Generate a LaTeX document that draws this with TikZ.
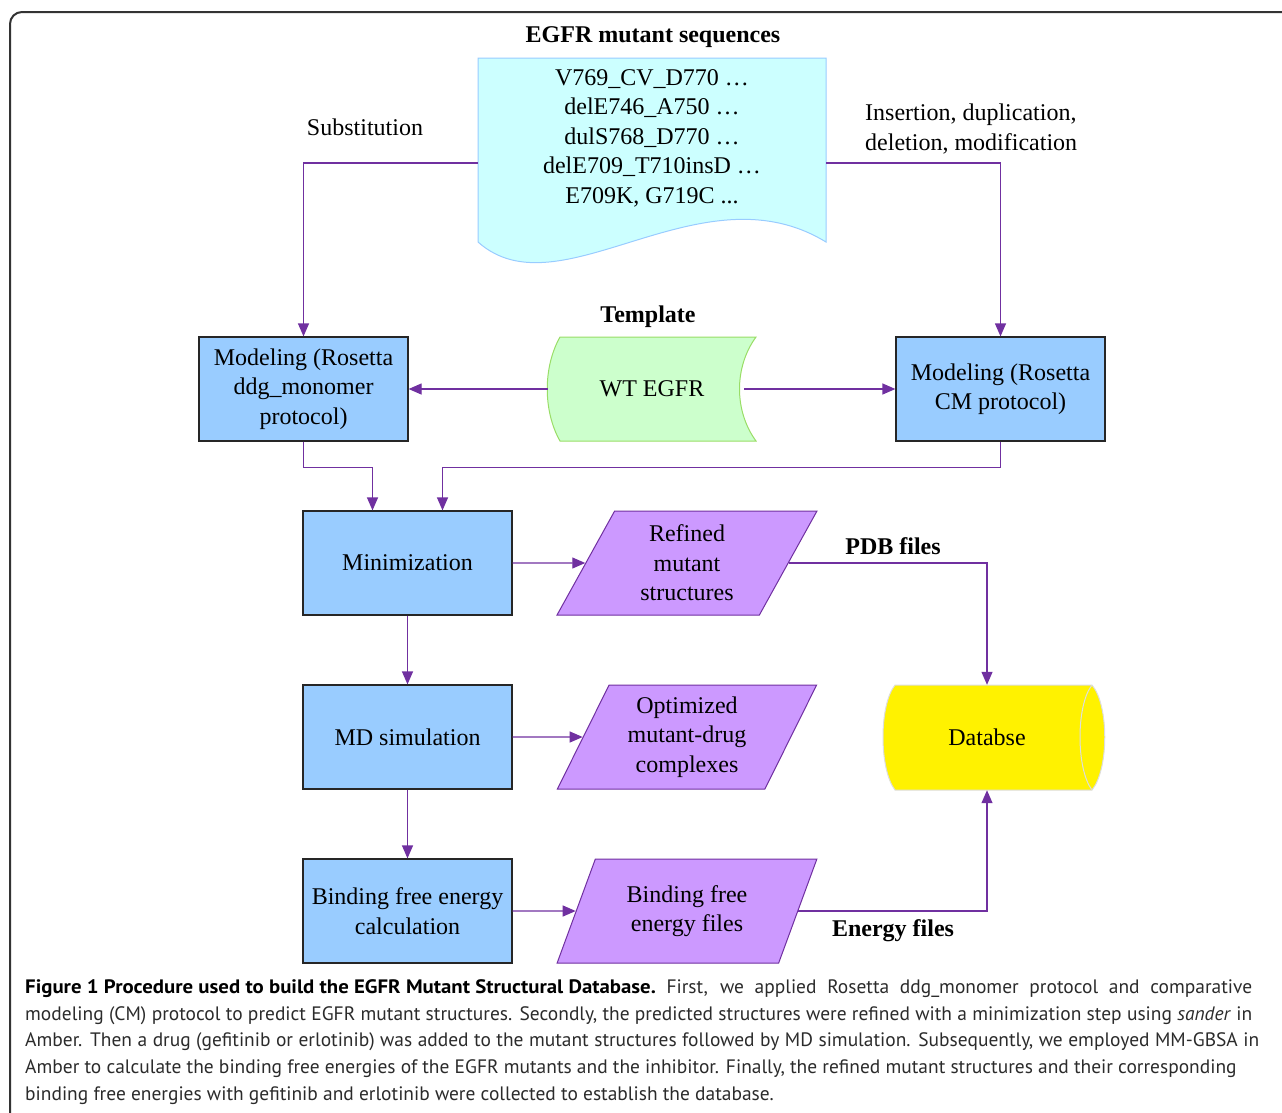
\documentclass[tikz,border=0pt]{standalone}
\usepackage{fontspec}
\setmainfont{Liberation Serif}
\newfontfamily\capfont{PT Sans}
\usetikzlibrary{arrows.meta}
\usetikzlibrary{shapes.geometric}

\definecolor{boxblue}{HTML}{99CCFF}
\definecolor{seqfill}{HTML}{CCFFFF}
\definecolor{wtfill}{HTML}{CCFFCC}
\definecolor{wtline}{HTML}{99DD66}
\definecolor{filefill}{HTML}{CC99FF}
\definecolor{flowpurple}{HTML}{7030A0}
\definecolor{dbline}{HTML}{DDDDDD}
\definecolor{capgray}{HTML}{2B2B2B}

\begin{document}
\begin{tikzpicture}[x=1pt,y=-1pt,
    font=\fontsize{24}{29.5}\selectfont,
    procbox/.style={draw=black!85, fill=boxblue, line width=1.2pt,
        minimum width=209pt, minimum height=104pt, align=center, inner sep=1pt},
    filebox/.style={trapezium, trapezium left angle=64, trapezium right angle=116,
        trapezium stretches=true, draw=flowpurple, fill=filefill, line width=1pt,
        minimum width=260pt, minimum height=104pt, align=center, inner sep=0pt},
    flow/.style={draw=flowpurple, line width=1.2pt, -{Triangle[length=13pt,width=11pt]}},
    lbl/.style={font=\fontsize{24}{29.5}\selectfont\bfseries},
    capline/.style={anchor=base west, inner sep=0pt, text=capgray,
        font=\capfont\fontsize{19.45}{26}\selectfont}]
    \useasboundingbox (0,0) rectangle (1282,1112);

    % Frame
    \draw[black!80, line width=2pt, rounded corners=12pt] (10,1130) -- (10,12) -- (1300,12);

    % Sequences (document shape)
    \draw[boxblue, fill=seqfill, line width=1pt] (478,58) -- (826,58) -- (826,242)
        .. controls (700,165) and (560,315) .. (478,242) -- cycle;
    \node[lbl] (seqtitle) at (653,37) {EGFR mutant sequences};
    \node[minimum width=348pt, align=center, inner sep=0pt] (seq) at (652,138)
        {V769\_CV\_D770 …\\delE746\_A750 …\\dulS768\_D770 …\\delE709\_T710insD …\\E709K, G719C ...};
    \node (subst) at (365,127) {Substitution};
    \node[anchor=west, align=left, inner sep=0pt] (insdel) at (865,129)
        {Insertion, duplication,\\deletion, modification};

    % Template
    \draw[wtline, fill=wtfill, line width=1pt] (560,337) -- (756,337)
        .. controls (734,367) and (734,411) .. (756,441) -- (560,441)
        .. controls (543,411) and (543,367) .. (560,337) -- cycle;
    \node[lbl] (tmpl) at (648,317) {Template};
    \node[minimum width=208pt, inner sep=0pt] (wt) at (652,389) {WT EGFR};

    % Modeling
    \node[procbox] (mod1) at (303.5,389) {Modeling (Rosetta\\ddg\_monomer\\protocol)};
    \node[procbox] (mod2) at (1000.5,389) {Modeling (Rosetta\\CM protocol)};

    % Refinement and MD
    \node[procbox] (mini) at (407.5,563) {Minimization};
    \node[procbox] (md) at (407.5,737) {MD simulation};
    \node[procbox] (bind) at (407.5,911) {Binding free energy\\calculation};

    % Output files
    \node[filebox] (refined) at (687,563) {Refined\\mutant\\structures};
    \node[filebox] (optim) at (687,737) {Optimized\\mutant-drug\\complexes};
    \node[filebox] (bfiles) at (687,911) {Binding free\\energy files};

    % Database (cylinder)
    \draw[dbline, fill=yellow, line width=1pt] (895,685) -- (1092,685)
        .. controls (1109,705) and (1109,769) .. (1092,790) -- (895,790)
        .. controls (879,769) and (879,705) .. (895,685) -- cycle;
    \draw[dbline, line width=1pt] (1092,685) .. controls (1076,705) and (1076,769) .. (1092,790);
    \node[minimum height=105pt, inner sep=0pt] (db) at (987,737.5) {Databse};
    \node[lbl] (pdb) at (893,546) {PDB files};
    \node[lbl] (energy) at (893,931) {Energy files};

    % Connectors
    \draw[flow] ([yshift=-25pt]seq.west) -| (mod1.north);
    \draw[flow] ([yshift=-25pt]seq.east) -| (mod2.north);
    \draw[flow] (wt.west) -- (mod1.east);
    \draw[flow] ([xshift=-12pt]wt.east) -- (mod2.west);
    \draw[flow] (mod1.south) -- ++(0,26) -| ([xshift=-35pt]mini.north);
    \draw[flow] (mod2.south) -- ++(0,26) -| ([xshift=35pt]mini.north);
    \draw[flow] (mini.east) -- (refined.west);
    \draw[flow] (md.east) -- (optim.west);
    \draw[flow] (bind.east) -- (bfiles.west);
    \draw[flow] (mini) -- (md);
    \draw[flow] (md) -- (bind);
    \draw[flow] (refined.east) -| (db.north);
    \draw[flow] (bfiles.east) -| (db.south);

    % Caption
    \node[capline] (cap1) at (25,993) {\makebox[1227pt][s]{\scalebox{1.07}[1]{\textbf{\color{black}Figure 1 Procedure used to build the EGFR Mutant Structural Database.}} First, we applied Rosetta ddg\_monomer protocol and comparative}};
    \node[capline] (cap2) at (25,1020) {\makebox[1227pt][s]{modeling (CM) protocol to predict EGFR mutant structures. Secondly, the predicted structures were refined with a minimization step using \textit{sander} in}};
    \node[capline] (cap3) at (25,1046.5) {\makebox[1234pt][s]{Amber. Then a drug (gefitinib or erlotinib) was added to the mutant structures followed by MD simulation. Subsequently, we employed MM-GBSA in}};
    \node[capline] (cap4) at (25,1073.5) {Amber to calculate the binding free energies of the EGFR mutants and the inhibitor. Finally, the refined mutant structures and their corresponding};
    \node[capline] (cap5) at (25,1100.5) {binding free energies with gefitinib and erlotinib were collected to establish the database.};
\end{tikzpicture}
\end{document}
